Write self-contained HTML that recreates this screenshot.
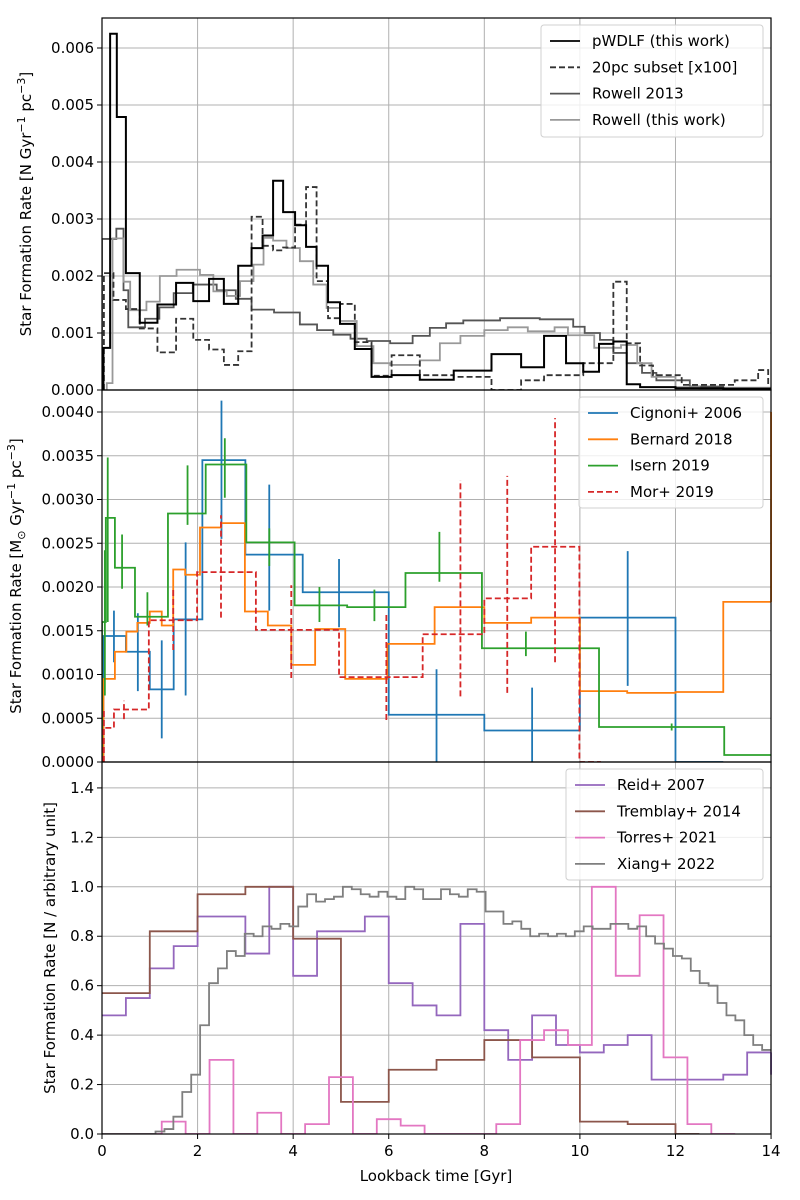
<!DOCTYPE html>
<html><head><meta charset="utf-8"><style>
body{margin:0;background:#fff}
svg{display:block;font-family:"DejaVu Sans","Liberation Sans",sans-serif}
</style></head><body>
<svg id="chart" width="800" height="1200" viewBox="0 0 800 1200" xmlns="http://www.w3.org/2000/svg">
<defs>
<clipPath id="c1"><rect x="102" y="18" width="669" height="372"/></clipPath>
<clipPath id="c2"><rect x="102" y="390" width="669" height="372"/></clipPath>
<clipPath id="c3"><rect x="102" y="762" width="669" height="372"/></clipPath>
</defs>
<g id="grid"></g>
<g id="series"></g>
<g id="axes"></g>
<text x="436" y="1181" text-anchor="middle" font-size="15">Lookback time [Gyr]</text>
<text transform="translate(31,204) rotate(-90)" text-anchor="middle" font-size="15">Star Formation Rate [N Gyr<tspan dy="-6" font-size="11">−1</tspan><tspan dy="6"> pc</tspan><tspan dy="-6" font-size="11">−3</tspan><tspan dy="6">]</tspan></text>
<text transform="translate(21,576) rotate(-90)" text-anchor="middle" font-size="15">Star Formation Rate [M<tspan dy="4" font-size="11">⊙</tspan><tspan dy="-4"> Gyr</tspan><tspan dy="-6" font-size="11">−1</tspan><tspan dy="6"> pc</tspan><tspan dy="-6" font-size="11">−3</tspan><tspan dy="6">]</tspan></text>
<text transform="translate(55,948) rotate(-90)" text-anchor="middle" font-size="15">Star Formation Rate [N / arbitrary unit]</text>
<g id="legends"></g>
</svg>
<script>
// ---------- Panel 1 data (units of 1e-3) ----------
const pwdlfEdges=[0.03,0.17,0.31,0.50,0.79,1.16,1.55,1.91,2.24,2.55,2.85,3.13,3.36,3.58,3.79,4.04,4.27,4.49,4.73,4.98,5.29,5.64,6.06,6.65,7.36,8.15,8.77,9.25,9.71,10.07,10.40,10.70,10.98,11.26,12,13,14];
const pwdlfValues=[0.74,6.25,4.79,2.05,1.18,1.50,1.88,1.56,1.95,1.51,2.18,2.49,2.71,3.67,3.12,2.89,2.51,2.18,1.54,1.16,0.72,0.23,0.26,0.18,0.34,0.63,0.40,0.95,0.47,0.32,0.81,0.85,0.10,0.05,0.03,0.02];
const pc20Edges=[0.04,0.24,0.50,0.79,1.16,1.55,1.91,2.24,2.55,2.85,3.13,3.36,3.58,3.79,4.04,4.27,4.49,4.73,4.98,5.29,5.64,6.06,6.65,7.36,8.15,8.77,9.25,10.07,10.70,10.98,11.26,11.53,12.13,13.24,13.73,13.94,14.0];
const pc20Values=[2.05,1.58,1.42,1.08,0.66,1.25,0.88,0.71,0.44,0.68,3.04,2.53,2.45,2.5,2.90,3.56,1.91,1.26,1.51,0.84,0.25,0.61,0.26,0.23,0.0,0.17,0.26,0.47,1.90,0.82,0.43,0.26,0.09,0.17,0.35,0.1];
const rowell13X=[0,0.3,0.45,0.55,0.9,1.2,1.5,1.9,2.4,2.8,3.13,3.6,4.14,4.5,4.84,5.2,5.54,6.03,6.5,6.86,7.2,7.56,8.33,9.16,9.86,10.1,10.42,10.7,10.98,11.3,11.6,12.3,13,14];
const rowell13Y=[2.65,2.83,1.75,1.1,1.25,1.45,1.7,1.85,1.75,1.6,1.41,1.36,1.15,1.05,0.97,0.9,0.86,0.82,0.95,1.09,1.17,1.22,1.26,1.24,1.11,1.0,0.88,0.65,0.47,0.3,0.17,0.06,0.04];
const rowellTWX=[0.1,0.22,0.45,0.59,0.93,1.21,1.56,2.05,2.33,2.61,2.89,3.17,3.38,3.58,3.86,4.14,4.42,4.7,4.98,5.33,5.68,6.03,6.65,7.07,7.5,8.0,8.21,8.49,8.91,9.47,9.75,10.3,10.86,11.2,11.5,12.0,12.5,14];
const rowellTWY=[0.12,2.66,1.9,1.4,1.55,2.0,2.11,2.02,1.73,1.65,1.91,2.2,2.67,2.62,2.49,2.26,1.85,1.44,1.21,0.77,0.47,0.44,0.52,0.82,0.95,1.05,1.05,1.1,1.03,1.1,0.96,0.74,0.79,0.47,0.23,0.05,0.03];
// ---------- Panel 2 data (units of 1e-3) ----------
const cigEdges=[0.03,0.5,1.0,1.5,2.1,3.0,4.2,6.0,8.0,10.0,12.0,13.0];
const cigValues=[1.44,1.26,0.83,1.63,3.45,2.37,1.94,0.54,0.36,1.65,0];
const cigErrX=[0.25,0.75,1.25,1.75,2.5,3.5,4.96,7.0,9.0,11.0];
const cigErrLo=[1.14,0.81,0.27,0.76,2.55,1.73,1.54,0,0,0.87];
const cigErrHi=[1.73,1.70,1.39,2.51,4.13,3.17,2.32,1.06,0.85,2.41];
const berEdges=[0.03,0.27,0.51,0.74,1.0,1.25,1.49,1.74,2.05,2.49,2.99,3.47,3.96,4.46,5.09,5.97,6.96,8,8.98,10,10.99,12,13,14];
const berValues=[0.95,1.26,1.49,1.59,1.72,1.56,2.20,2.14,2.68,2.73,1.72,1.56,1.11,1.52,0.95,1.35,1.77,1.59,1.65,0.81,0.79,0.80,1.83];
const isEdges=[0.0,0.08,0.27,0.69,1.38,2.17,3.02,4.03,5.13,6.35,7.95,10.4,13.02,14];
const isValues=[1.6,2.79,2.22,1.66,2.84,3.40,2.51,1.79,1.77,2.16,1.30,0.40,0.08];
const isErrX=[0.06,0.12,0.42,0.95,1.79,2.57,3.5,4.55,5.7,7.06,8.87,11.92];
const isErrLo=[0.76,1.6,1.98,1.56,2.71,3.02,2.24,1.6,1.61,2.06,1.21,0.36];
const isErrHi=[2.42,3.48,2.60,1.94,3.39,3.70,2.67,2.0,1.97,2.63,1.49,0.44];
const morEdges=[0.03,0.25,0.98,1.99,3.22,4.96,6.71,8.0,8.98,9.99,10.44];
const morValues=[0.39,0.60,1.62,2.17,1.51,0.97,1.46,1.87,2.46,0];
const morErrX=[0.04,0.46,1.49,2.49,3.96,5.95,7.5,8.48,9.48];
const morErrLo=[0.0,0.49,1.28,1.65,0.96,0.48,0.75,0.79,1.14];
const morErrHi=[0.61,0.70,1.98,2.82,2.02,1.68,3.22,3.27,3.93];
// ---------- Panel 3 data ----------
const reidValues=[0.48,0.55,0.67,0.76,0.88,0.88,0.73,1.0,0.64,0.82,0.82,0.88,0.61,0.52,0.48,0.85,0.42,0.30,0.48,0.36,0.33,0.36,0.40,0.22,0.22,0.22,0.24,0.33];
const tremValues=[0.57,0.82,0.97,1.0,0.79,0.13,0.26,0.30,0.38,0.31,0.05,0.04,0];
const torresValues=[0,0,0.05,0,0.30,0,0.086,0,0.04,0.23,0,0.06,0.034,0,0,0,0.04,0.38,0.42,0.36,1.0,0.64,0.885,0.31,0.04,0];
const xiangValues=[0,0,0,0,0,0,0.01,0.02,0.07,0.17,0.24,0.44,0.61,0.67,0.74,0.72,0.81,0.80,0.84,0.83,0.85,0.84,0.92,0.97,0.94,0.95,0.96,1.0,0.99,0.97,0.96,0.98,0.96,0.95,1.0,0.99,0.95,0.95,0.99,0.97,0.96,0.99,0.98,0.90,0.90,0.85,0.86,0.83,0.80,0.81,0.80,0.81,0.80,0.82,0.84,0.83,0.83,0.85,0.85,0.83,0.84,0.80,0.77,0.75,0.72,0.71,0.66,0.61,0.60,0.53,0.48,0.46,0.40,0.36,0.34];
const xTicks=[0,2,4,6,8,10,12,14];
const y1Ticks=["0.000","0.001","0.002","0.003","0.004","0.005","0.006"];
const y2Ticks=["0.0000","0.0005","0.0010","0.0015","0.0020","0.0025","0.0030","0.0035","0.0040"];
const y3Ticks=["0.0","0.2","0.4","0.6","0.8","1.0","1.2","1.4"];

const NS="http://www.w3.org/2000/svg";
const X=g=>102+g*47.79;
const Y1=v=>390-v*57.0;      // v in 1e-3
const Y2=v=>762-v*87.5;      // v in 1e-3
const Y3=v=>1134-v*247.2;
function mk(tag,attrs,parent){const e=document.createElementNS(NS,tag);for(const k in attrs)e.setAttribute(k,attrs[k]);parent.appendChild(e);return e;}
const grid=document.getElementById('grid'),series=document.getElementById('series'),axes=document.getElementById('axes'),legends=document.getElementById('legends');

function stepPath(edges,vals,Y,fromZero){
  let d='M'+X(edges[0])+','+(fromZero?Y(0):Y(vals[0]));
  if(fromZero)d+=' V'+Y(vals[0]);
  for(let i=0;i<vals.length;i++){d+=' H'+X(edges[i+1]);if(i+1<vals.length)d+=' V'+Y(vals[i+1]);}
  return d;
}
function uniformEdges(start,step,n){const e=[];for(let i=0;i<=n;i++)e.push(start+i*step);return e;}
function addStep(name,edges,vals,Y,color,clip,dash,fromZero,w){
  const p=mk('path',{d:stepPath(edges,vals,Y,fromZero),fill:'none',stroke:color,'stroke-width':w||1.8,'clip-path':'url(#'+clip+')'},series);
  if(dash)p.setAttribute('stroke-dasharray',dash);
  
  
  return p;
}
function addErr(name,xs,lo,hi,Y,color,clip,dash){
  for(let i=0;i<xs.length;i++){
    const l=mk('line',{x1:X(xs[i]),x2:X(xs[i]),y1:Y(lo[i]),y2:Y(hi[i]),stroke:color,'stroke-width':1.8,'clip-path':'url(#'+clip+')'},series);
    if(dash)l.setAttribute('stroke-dasharray',dash);
    
    
  }
}
// grids & axes
const panels=[{top:18,ticks:y1Ticks,Y:v=>Y1(parseFloat(v)*1000)},{top:390,ticks:y2Ticks,Y:v=>Y2(parseFloat(v)*1000)},{top:762,ticks:y3Ticks,Y:v=>Y3(parseFloat(v))}];
panels.forEach((p,pi)=>{
  xTicks.forEach(t=>{const l=mk('line',{x1:X(t),x2:X(t),y1:p.top,y2:p.top+372,stroke:'#b0b0b0','stroke-width':1},grid);
    
    });
  p.ticks.forEach(t=>{const y=p.Y(t);
    const l=mk('line',{x1:102,x2:771,y1:y,y2:y,stroke:'#b0b0b0','stroke-width':1},grid);
    
    
    const tk=mk('line',{x1:97,x2:102,y1:y,y2:y,stroke:'#000','stroke-width':1},axes);
    
    
    const tx=mk('text',{x:94,y:y+5,'text-anchor':'end','font-size':15},axes);tx.textContent=t;
    
    });
  const r=mk('rect',{x:102,y:p.top,width:669,height:372,fill:'none',stroke:'#000','stroke-width':1.2},axes);
  
  
});
xTicks.forEach(t=>{
  const tk=mk('line',{x1:X(t),x2:X(t),y1:1134,y2:1139,stroke:'#000','stroke-width':1},axes);
  
  
  const tx=mk('text',{x:X(t),y:1156,'text-anchor':'middle','font-size':15},axes);tx.textContent=t;
  
  
});
// panel 1
addStep('rowell-2013-line',rowell13X,rowell13Y,Y1,'#555555','c1',null,true);
addStep('rowell-this-work-line',rowellTWX,rowellTWY,Y1,'#999999','c1',null,true);
addStep('pc20-subset-line',pc20Edges,pc20Values,Y1,'#333333','c1','6,3',true);
addStep('pwdlf-line',pwdlfEdges,pwdlfValues,Y1,'#000000','c1',null,true,2);
// panel 2
addStep('cignoni-2006-line',cigEdges,cigValues,Y2,'#1f77b4','c2',null,true);
addErr('cignoni-2006-errorbar',cigErrX,cigErrLo,cigErrHi,Y2,'#1f77b4','c2');
addStep('bernard-2018-line',berEdges,berValues,Y2,'#ff7f0e','c2',null,true);
mk('line',{x1:X(14),x2:X(14),y1:Y2(berValues[berValues.length-1]),y2:Y2(4.0),stroke:'#ff7f0e','stroke-width':1.8},series);
addStep('isern-2019-line',isEdges,isValues,Y2,'#2ca02c','c2',null,true);
addErr('isern-2019-errorbar',isErrX,isErrLo,isErrHi,Y2,'#2ca02c','c2');
addStep('mor-2019-line',morEdges,morValues,Y2,'#d62728','c2','6,3',true);
addErr('mor-2019-errorbar',morErrX,morErrLo,morErrHi,Y2,'#d62728','c2','6,3');
// panel 3
addStep('reid-2007-line',uniformEdges(0,0.5,reidValues.length),reidValues,Y3,'#9467bd','c3',null,false);
mk('line',{x1:X(14),x2:X(14),y1:Y3(0.33),y2:Y3(0.24),stroke:'#9467bd','stroke-width':1.8},series);
addStep('tremblay-2014-line',uniformEdges(0,1,tremValues.length).map((e,i)=>i===tremValues.length?12.5:e),tremValues,Y3,'#8c564b','c3',null,false);
addStep('torres-2021-line',[0].concat(uniformEdges(0.75,0.5,torresValues.length-1)),torresValues,Y3,'#e377c2','c3',null,false);
addStep('xiang-2022-line',uniformEdges(0,14/75,xiangValues.length),xiangValues,Y3,'#7f7f7f','c3',null,false);

// legends
function legend(name,x,y,w,h,entries){
  const g=mk('g',{},legends);
  
  
  mk('rect',{x:x,y:y,width:w,height:h,rx:3,fill:'#fff','fill-opacity':0.8,stroke:'#d0d0d0'},g);
  entries.forEach((e,i)=>{
    const yy=y+16+i*26.3;
    const ln=mk('line',{x1:x+9,x2:x+39,y1:yy,y2:yy,stroke:e[1],'stroke-width':1.8},g);
    if(e[2])ln.setAttribute('stroke-dasharray',e[2]);
    const t=mk('text',{x:x+51,y:yy+5,'font-size':15},g);t.textContent=e[0];
    
    
  });
}
legend('legend-top',541,25,222,112,[['pWDLF (this work)','#000'],['20pc subset [x100]','#333','6,3'],['Rowell 2013','#555'],['Rowell (this work)','#999']]);
legend('legend-middle',579,397,184,111,[['Cignoni+ 2006','#1f77b4'],['Bernard 2018','#ff7f0e'],['Isern 2019','#2ca02c'],['Mor+ 2019','#d62728','6,3']]);
legend('legend-bottom',566,769,197,111,[['Reid+ 2007','#9467bd'],['Tremblay+ 2014','#8c564b'],['Torres+ 2021','#e377c2'],['Xiang+ 2022','#7f7f7f']]);
</script>
</body></html>
